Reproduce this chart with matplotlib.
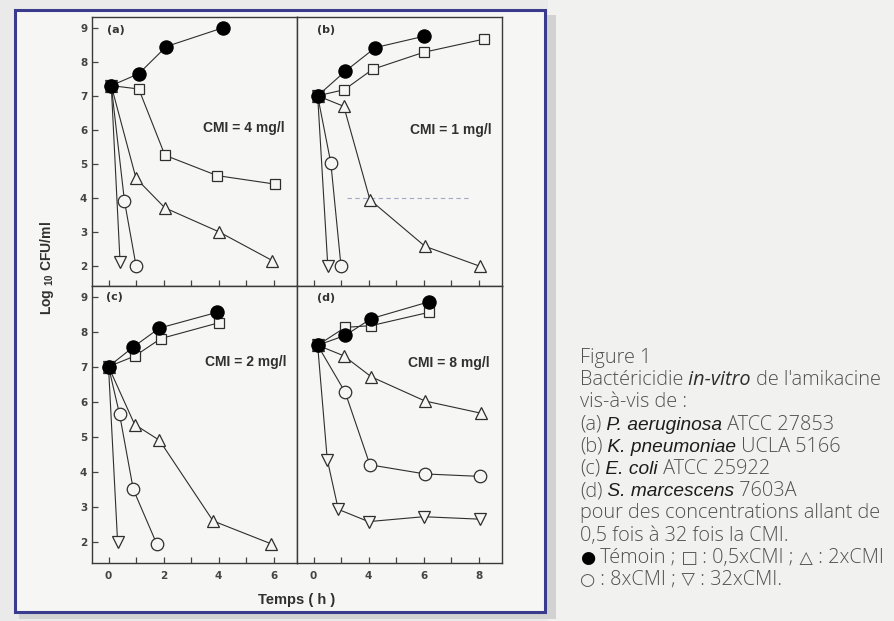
import matplotlib
matplotlib.use("Agg")
import matplotlib.pyplot as plt
from matplotlib.patches import Rectangle

plt.rcParams["mathtext.fontset"] = "custom"
plt.rcParams["mathtext.bf"] = "Liberation Sans:bold"
plt.rcParams["mathtext.rm"] = "Liberation Sans"

# --- donnees (log10 CFU/ml en fonction du temps, h) ---
# (a) P. aeruginosa, CMI = 4 mg/l
a_temoin_t = [0.1, 1.1, 2.1, 4.15]
a_temoin_y = [7.3, 7.65, 8.45, 9.0]
a_05_t = [0.1, 1.1, 2.05, 3.95, 6.05]
a_05_y = [7.3, 7.2, 5.25, 4.65, 4.4]
a_2_t = [0.1, 1.0, 2.05, 4.0, 5.95]
a_2_y = [7.3, 4.57, 3.7, 3.0, 2.15]
a_8_t = [0.1, 0.58, 1.0]
a_8_y = [7.3, 3.9, 2.0]
a_32_t = [0.1, 0.42]
a_32_y = [7.3, 2.1]

# (b) K. pneumoniae, CMI = 1 mg/l
b_temoin_t = [0.15, 1.15, 2.25, 4.0]
b_temoin_y = [7.0, 7.72, 8.42, 8.75]
b_05_t = [0.15, 1.12, 2.15, 4.0, 6.2]
b_05_y = [7.0, 7.18, 7.78, 8.28, 8.67]
b_2_t = [0.15, 1.1, 2.05, 4.05, 6.05]
b_2_y = [7.0, 6.69, 3.94, 2.57, 1.98]
b_8_t = [0.15, 0.63, 1.0]
b_8_y = [7.0, 5.02, 1.98]
b_32_t = [0.15, 0.52]
b_32_y = [7.0, 1.98]

# (c) E. coli, CMI = 2 mg/l
c_temoin_t = [0.0, 0.9, 1.85, 3.95]
c_temoin_y = [7.0, 7.56, 8.1, 8.55]
c_05_t = [0.0, 0.95, 1.9, 4.0]
c_05_y = [7.0, 7.3, 7.8, 8.25]
c_2_t = [0.0, 0.95, 1.85, 3.8, 5.9]
c_2_y = [7.0, 5.35, 4.9, 2.6, 1.95]
c_8_t = [0.0, 0.4, 0.9, 1.75]
c_8_y = [7.0, 5.65, 3.5, 1.95]
c_32_t = [0.0, 0.33]
c_32_y = [7.0, 2.0]

# (d) S. marcescens, CMI = 8 mg/l
d_temoin_t = [0.15, 1.15, 2.1, 4.2]
d_temoin_y = [7.61, 7.89, 8.37, 8.85]
d_05_t = [0.15, 1.15, 2.1, 4.2]
d_05_y = [7.61, 8.12, 8.17, 8.55]
d_2_t = [0.15, 1.1, 2.1, 4.05, 6.1]
d_2_y = [7.61, 7.31, 6.71, 6.02, 5.67]
d_8_t = [0.15, 1.15, 2.05, 4.05, 6.05]
d_8_y = [7.61, 6.27, 4.2, 3.94, 3.87]
d_32_t = [0.15, 0.5, 0.9, 2.0, 4.0, 6.05]
d_32_y = [7.61, 4.35, 2.93, 2.58, 2.72, 2.65]

panel_letters = ["(a)", "(b)", "(c)", "(d)"]
cmi_texts = ["CMI = 4 mg/l", "CMI = 1 mg/l", "CMI = 2 mg/l", "CMI = 8 mg/l"]
cmi_y = [6.05, 6.0, 7.14, 7.1]
y_ticks = [2, 3, 4, 5, 6, 7, 8, 9]
x_ticks = [0, 1, 2, 3, 4, 5, 6]
c_xlabels = ["0", "", "2", "", "4", "", "6"]
d_xlabels = ["0", "", "4", "", "6", "", "8"]

BG = "#eaeaea"
BOX = "#f6f6f4"
INK = "#2e2e2e"

W, H = 895, 621
fig = plt.figure(figsize=(8.95, 6.21), dpi=100, facecolor=BG)

# fond : cadre bleu + ombre + zone de legende
bg = fig.add_axes([0, 0, 1, 1], zorder=0)
bg.set_xlim(0, W)
bg.set_ylim(H, 0)
bg.axis("off")
bg.add_patch(Rectangle((548, 0), W - 548, H, facecolor="#f1f1f0", edgecolor="none"))
bg.add_patch(Rectangle((19, 15), 537, 604, facecolor="#d2d2d2", edgecolor="none"))
bg.add_patch(Rectangle((15, 10), 530, 602, facecolor=BOX, edgecolor="#3b3b8e", lw=2.2))

# panneaux (en pixels : gauche 92, milieu 297, droite 502 ; haut 17, milieu 286, bas 563)
def px_axes(x0, x1, y0, y1):
    return fig.add_axes([x0 / W, 1 - y1 / H, (x1 - x0) / W, (y1 - y0) / H], zorder=1)

ax_a = px_axes(92, 297, 17, 286)
ax_b = px_axes(297, 502, 17, 286)
ax_c = px_axes(92, 297, 286, 563)
ax_d = px_axes(297, 502, 286, 563)

panels = [
    (ax_a, [(a_05_t, a_05_y), (a_2_t, a_2_y), (a_8_t, a_8_y), (a_32_t, a_32_y), (a_temoin_t, a_temoin_y)]),
    (ax_b, [(b_05_t, b_05_y), (b_2_t, b_2_y), (b_8_t, b_8_y), (b_32_t, b_32_y), (b_temoin_t, b_temoin_y)]),
    (ax_c, [(c_05_t, c_05_y), (c_2_t, c_2_y), (c_8_t, c_8_y), (c_32_t, c_32_y), (c_temoin_t, c_temoin_y)]),
    (ax_d, [(d_05_t, d_05_y), (d_2_t, d_2_y), (d_8_t, d_8_y), (d_32_t, d_32_y), (d_temoin_t, d_temoin_y)]),
]
styles = [
    dict(marker="s", ms=7.5, mfc=BOX, mec=INK),
    dict(marker="^", ms=8, mfc=BOX, mec=INK),
    dict(marker="o", ms=9, mfc=BOX, mec=INK),
    dict(marker="v", ms=8, mfc=BOX, mec=INK),
    dict(marker="o", ms=9.5, mfc="black", mec="black"),
]
letter_pos = [(0.073, 0.952), (0.098, 0.95), (0.07, 0.96), (0.1, 0.955)]
cmi_x = [0.94, 0.95, 0.95, 0.94]

for i, (ax, series) in enumerate(panels):
    ax.set_facecolor(BOX)
    for (t, y), st in zip(series, styles):
        ax.plot(t, y, color=INK, lw=0.8, mew=0.9, **st)
    ax.set_xlim(-0.6, 6.85)
    ax.set_ylim(1.4, 9.32 if i < 2 else 9.3)
    ax.set_xticks(x_ticks)
    ax.tick_params(direction="in", length=4, width=0.9, color="#444444",
                   labelsize=7.5, labelcolor="#444444")
    for s in ax.spines.values():
        s.set_color("#3a3a3a")
        s.set_linewidth(1.0)
    ax.text(*letter_pos[i], panel_letters[i], transform=ax.transAxes, fontsize=8,
            fontweight="bold", color="#333333", ha="left", va="center")
    ax.text(cmi_x[i], cmi_y[i], cmi_texts[i], transform=ax.get_yaxis_transform(),
            fontsize=10, fontweight="bold", family="Liberation Sans", color="#303030",
            ha="right", va="center")
    if i % 2 == 0:
        ax.set_yticks(y_ticks)
        ax.set_yticklabels([str(v) for v in y_ticks], fontweight="bold")
    else:
        ax.set_yticks([])
    if i < 2:
        ax.set_xticklabels([])

ax_c.set_xticklabels(c_xlabels, fontweight="bold")
ax_d.set_xticklabels(d_xlabels, fontweight="bold")
ax_c.tick_params(axis="x", pad=6)
ax_d.tick_params(axis="x", pad=6)

# trait pointille parasite du scan dans (b)
ax_b.plot([1.2, 5.7], [3.98, 3.98], color="#a4a8c8", lw=0.8, ls=(0, (4, 3)), zorder=0.5)

fig.text(47 / W, 1 - 268 / H, r"Log $_{\mathbf{10}}$ CFU/ml", rotation=90,
         fontsize=10, fontweight="bold", family="Liberation Sans", color="#303030",
         ha="center", va="center")
fig.text(297 / W, 1 - 600 / H, "Temps ( h )", fontsize=10.5, fontweight="bold",
         family="Liberation Sans", color="#303030", ha="center", va="center")

# legende de la figure, a droite
cap_lines = [
    [("Figure 1", "n")],
    [("Bactéricidie", "n"), (" in-vitro", "i"), (" de l'amikacine", "n")],
    [("vis-à-vis de :", "n")],
    [("(a)", "n"), (" P. aeruginosa", "bi"), (" ATCC 27853", "n")],
    [("(b)", "n"), (" K. pneumoniae", "bi"), (" UCLA 5166", "n")],
    [("(c)", "n"), (" E. coli", "bi"), (" ATCC 25922", "n")],
    [("(d)", "n"), (" S. marcescens", "bi"), (" 7603A", "n")],
    [("pour des concentrations allant de", "n")],
    [("0,5 fois à 32 fois la CMI.", "n")],
    [("●", "k"), (" Témoin ;", "n"), (" □", "s"), (" : 0,5xCMI ;", "n"), (" △", "s"), (" : 2xCMI", "n")],
    [("○", "s"), (" : 8xCMI ;", "n"), (" ▽", "s"), (" : 32xCMI.", "n")],
]
cap_styles = {
    "n": dict(family="Open Sans", fontweight="light", color="#505050", fontsize=14.3),
    "i": dict(family="Open Sans", fontstyle="italic", fontweight="normal", color="#2e2e2e", fontsize=14.3),
    "bi": dict(family="Liberation Sans", fontstyle="italic", fontweight="normal", color="#1c1c1c", fontsize=13.8),
    "k": dict(family="DejaVu Sans", fontweight="normal", color="black", fontsize=12.5),
    "s": dict(family="DejaVu Sans", fontweight="normal", color="#555555", fontsize=12.5),
}
renderer = fig.canvas.get_renderer()
for k, line in enumerate(cap_lines):
    y = 363 + k * 22.2
    x = 580
    for txt, st in line:
        t = bg.text(x, y, txt, ha="left", va="baseline", **cap_styles[st])
        x += t.get_window_extent(renderer).width

fig.savefig("out.png", dpi=100, facecolor=BG)
